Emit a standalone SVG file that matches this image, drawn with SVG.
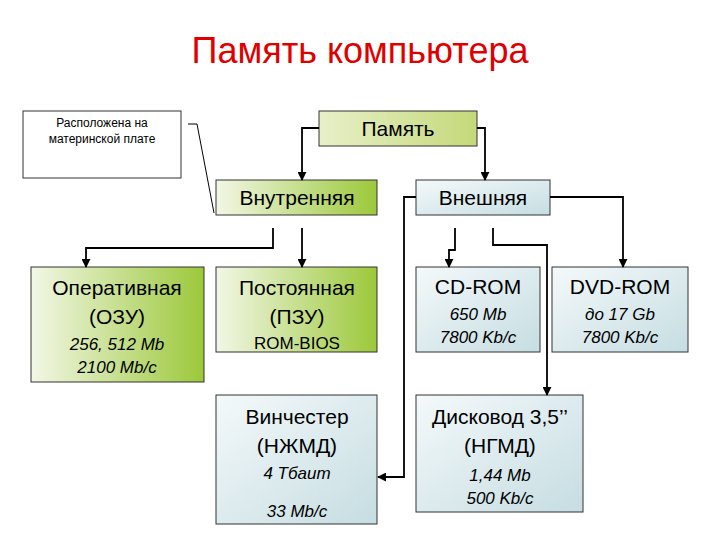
<svg xmlns="http://www.w3.org/2000/svg" width="720" height="540" viewBox="0 0 720 540">
<defs>
<linearGradient id="gr" x1="0" y1="0" x2="1" y2="0"><stop offset="0" stop-color="#f2f7e6"/><stop offset="1" stop-color="#9cc83a"/></linearGradient>
<linearGradient id="gp" x1="0" y1="0" x2="1" y2="0"><stop offset="0" stop-color="#e8f0c8"/><stop offset="1" stop-color="#c4d97a"/></linearGradient>
<linearGradient id="bl" x1="0" y1="0" x2="1" y2="1"><stop offset="0" stop-color="#f4f9fa"/><stop offset="1" stop-color="#c6dde2"/></linearGradient>
<marker id="ar" viewBox="0 0 10 10" refX="9" refY="5" markerWidth="5" markerHeight="5" orient="auto"><path d="M0,0 L10,5 L0,10 z" fill="#000"/></marker>
<style>
.b{stroke:#333;stroke-width:1}
text{font-family:"Liberation Sans",Arial,sans-serif;text-anchor:middle;fill:#000}
.m{font-size:21px}
.i{font-size:17px;font-style:italic}
.c{fill:none;stroke:#000;stroke-width:1.8;marker-end:url(#ar)}
</style>
</defs>
<rect width="720" height="540" fill="#fff"/>
<text x="360" y="63" style="font-size:36px;fill:#e00000">Память компьютера</text>
<g id="callout">
<rect x="23" y="111" width="158" height="67" fill="#fff" class="b"/>
<text x="102" y="127" style="font-size:12px">Расположена на</text>
<text x="102" y="143" style="font-size:12px">материнской плате</text>
<path d="M188,124 L197,124 L214,213" fill="none" stroke="#000" stroke-width="1"/>
</g>
<g id="n-pamyat"><rect x="319" y="111" width="158" height="35" fill="url(#gp)" class="b"/><text class="m" x="398" y="136">Память</text></g>
<g id="n-vnutr"><rect x="216" y="180" width="161" height="35" fill="url(#gr)" class="b"/><text class="m" x="297" y="205">Внутренняя</text></g>
<g id="n-vnesh"><rect x="416" y="180" width="134" height="35" fill="url(#bl)" class="b"/><text class="m" x="483" y="205">Внешняя</text></g>
<g id="n-ozu"><rect x="31" y="267" width="173" height="115" fill="url(#gr)" class="b"/>
<text class="m" x="117" y="295">Оперативная</text><text class="m" x="117" y="324">(ОЗУ)</text>
<text class="i" x="117" y="350">256, 512 Mb</text><text class="i" x="117" y="373">2100 Mb/c</text></g>
<g id="n-pzu"><rect x="216" y="267" width="161" height="85" fill="url(#gr)" class="b"/>
<text class="m" x="297" y="295">Постоянная</text><text class="m" x="297" y="324">(ПЗУ)</text>
<text x="297" y="349" style="font-size:17px">ROM-BIOS</text></g>
<g id="n-cd"><rect x="416" y="267" width="124" height="85" fill="url(#bl)" class="b"/>
<text class="m" x="478" y="294">CD-ROM</text><text class="i" x="478" y="320">650 Mb</text><text class="i" x="478" y="343">7800 Kb/c</text></g>
<g id="n-dvd"><rect x="552" y="267" width="136" height="85" fill="url(#bl)" class="b"/>
<text class="m" x="620" y="294">DVD-ROM</text><text class="i" x="620" y="320">до 17 Gb</text><text class="i" x="620" y="343">7800 Kb/c</text></g>
<g id="n-hdd"><rect x="216" y="395" width="161" height="129" fill="url(#bl)" class="b"/>
<text class="m" x="297" y="424">Винчестер</text><text class="m" x="297" y="453">(НЖМД)</text>
<text class="i" x="297" y="479">4 Тбаит</text><text class="i" x="297" y="517">33 Mb/c</text></g>
<g id="n-fdd"><rect x="416" y="395" width="167" height="117" fill="url(#bl)" class="b"/>
<text class="m" x="500" y="424">Дисковод 3,5’’</text><text class="m" x="500" y="453">(НГМД)</text>
<text class="i" x="500" y="481">1,44 Mb</text><text class="i" x="500" y="504">500 Kb/c</text></g>
<g id="connectors">
<path class="c" d="M319,128 H302 V180"/>
<path class="c" d="M477,128 H485 V180"/>
<path class="c" d="M273,228 V248 H86 V267"/>
<path class="c" d="M302,228 V267"/>
<path class="c" d="M416,197 H404 V477 H378"/>
<path class="c" d="M550,197 H623 V267"/>
<path class="c" d="M455,228 V250 H449 V267"/>
<path class="c" d="M493,228 V245 H547 V395"/>
</g>
</svg>
